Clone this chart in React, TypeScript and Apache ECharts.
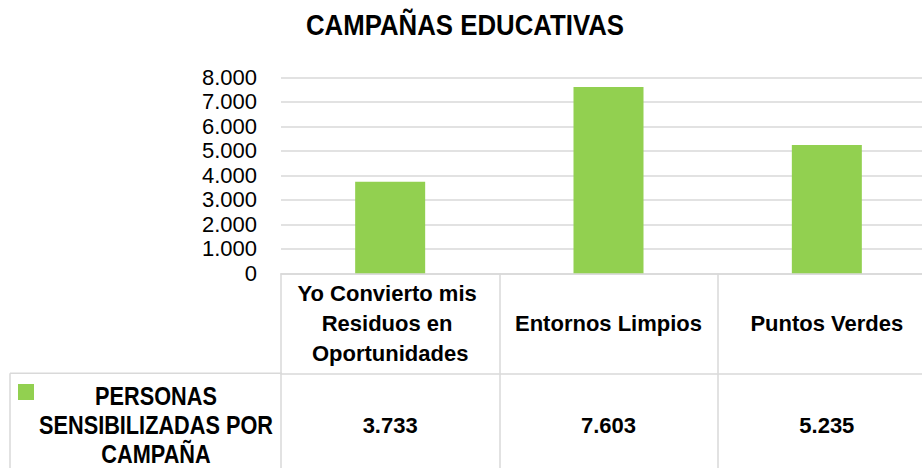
import React, { useEffect, useRef } from "react";
import * as echarts from "echarts";

const title = "CAMPAÑAS EDUCATIVAS";
const seriesName = "PERSONAS SENSIBILIZADAS POR CAMPAÑA";
const seriesLabelLines = ["PERSONAS", "SENSIBILIZADAS POR", "CAMPAÑA"];
const categories = ["Yo Convierto mis Residuos en Oportunidades", "Entornos Limpios", "Puntos Verdes"];
const values = [3733, 7603, 5235];
const yTicks = [0, 1000, 2000, 3000, 4000, 5000, 6000, 7000, 8000];

const fmt = (v: number) => String(v).replace(/\B(?=(\d{3})+(?!\d))/g, ".");

const FONT = "'Liberation Sans', Arial, sans-serif";
const LINE = "#d9d9d9";
const GREEN = "#92D050";

export default function App() {
  const ref = useRef<HTMLDivElement>(null);
  useEffect(() => {
    if (!ref.current) return;
    const chart = echarts.init(ref.current, null, { renderer: "svg" });
    chart.setOption({
      animation: false,
      backgroundColor: "#ffffff",
      textStyle: { fontFamily: FONT },
      grid: { left: 281, top: 77.3, width: 655, height: 196, containLabel: false, outerBoundsMode: "none" },
      xAxis: [
        {
          type: "category",
          data: categories,
          position: "bottom",
          axisLine: { show: true, lineStyle: { color: LINE, width: 1.5 } },
          axisTick: { show: true, length: 100, interval: 0, lineStyle: { color: LINE, width: 1.5 } },
          axisLabel: {
            interval: 0,
            margin: 50.5,
            verticalAlign: "middle",
            width: 200,
            overflow: "break",
            lineHeight: 30,
            fontFamily: FONT,
            fontWeight: "bold",
            fontSize: 22,
            color: "#000",
          },
        },
        {
          type: "category",
          data: values.map(fmt),
          position: "bottom",
          offset: 100,
          axisLine: { show: true, lineStyle: { color: LINE, width: 1.5 } },
          axisTick: { show: true, length: 100, interval: 0, lineStyle: { color: LINE, width: 1.5 } },
          axisLabel: {
            interval: 0,
            margin: 52,
            verticalAlign: "middle",
            fontFamily: FONT,
            fontWeight: "bold",
            fontSize: 22,
            color: "#000",
          },
        },
      ],
      yAxis: {
        type: "value",
        min: yTicks[0],
        max: yTicks[yTicks.length - 1],
        interval: 1000,
        axisLine: { show: false },
        axisTick: { show: false },
        splitLine: { show: true, lineStyle: { color: LINE, width: 1.5 } },
        axisLabel: {
          margin: 24,
          fontFamily: FONT,
          fontSize: 22,
          color: "#000",
          formatter: (v: number) => fmt(v),
        },
      },
      series: [
        {
          name: seriesName,
          type: "bar",
          xAxisIndex: 0,
          data: values,
          barWidth: 70,
          itemStyle: { color: GREEN },
        },
      ],
      graphic: [
        {
          type: "text",
          x: 465,
          y: 25,
          scaleX: 0.86,
          style: {
            text: title,
            align: "center",
            verticalAlign: "middle",
            fontFamily: FONT,
            fontWeight: "bold",
            fontSize: 30,
            fill: "#000",
          },
        },
        { type: "line", shape: { x1: 10, y1: 373.3, x2: 282, y2: 373.3 }, style: { stroke: LINE, lineWidth: 1.5 } },
        { type: "line", shape: { x1: 10, y1: 373.3, x2: 10, y2: 470 }, style: { stroke: LINE, lineWidth: 1.5 } },
        { type: "rect", shape: { x: 18, y: 384, width: 16, height: 16 }, style: { fill: GREEN } },
        {
          type: "text",
          x: 156,
          y: 425,
          scaleX: 0.835,
          style: {
            text: seriesLabelLines.join("\n"),
            align: "center",
            verticalAlign: "middle",
            lineHeight: 29,
            fontFamily: FONT,
            fontWeight: "bold",
            fontSize: 26,
            fill: "#000",
          },
        },
      ],
    });
    return () => chart.dispose();
  }, []);
  return <div ref={ref} style={{ width: 922, height: 468, position: "absolute", left: 0, top: 0 }} />;
}
